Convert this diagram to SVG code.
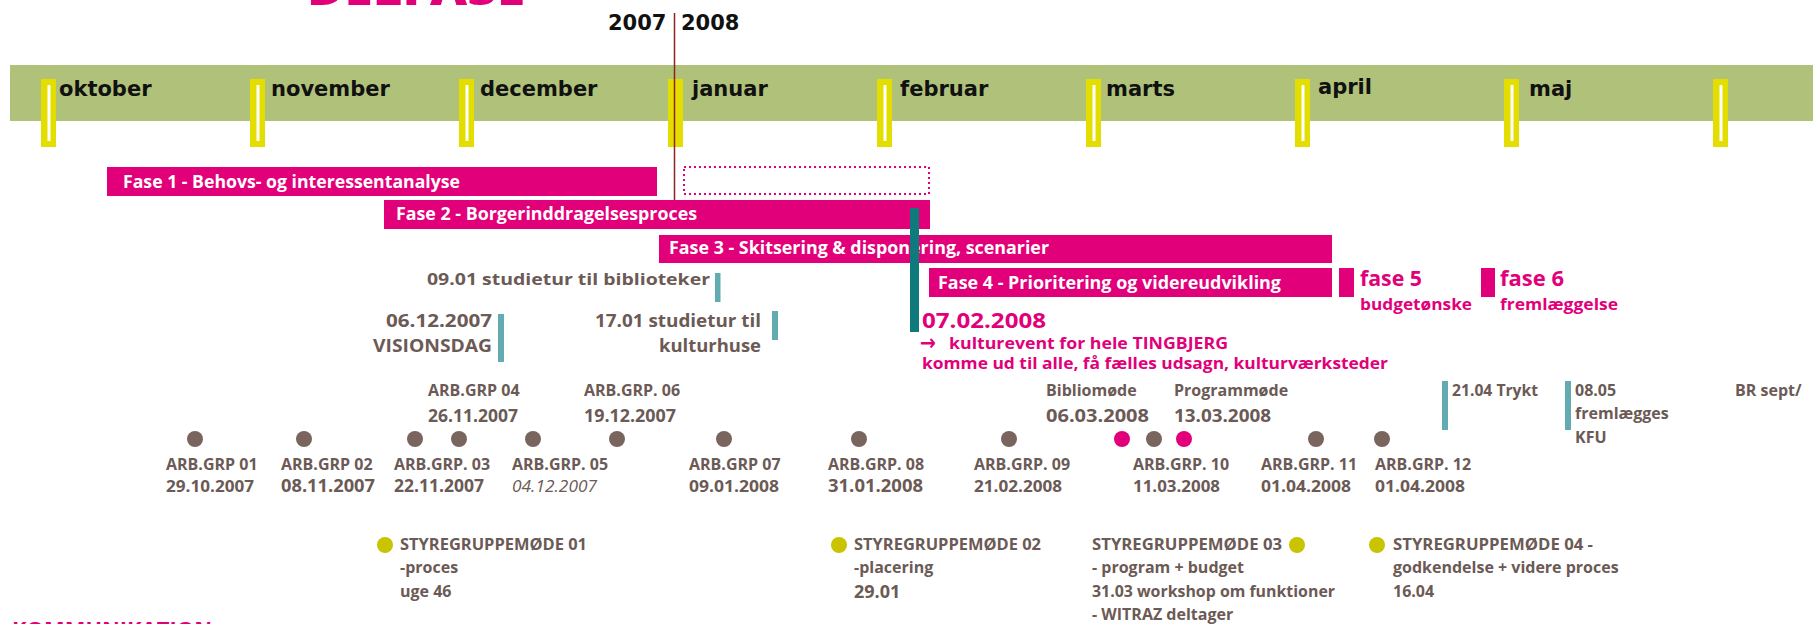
<svg xmlns="http://www.w3.org/2000/svg" width="1813" height="624" viewBox="0 0 1813 624">
<defs>
<style>
.m{font-family:"DejaVu Sans",sans-serif;font-weight:bold;font-size:21px;fill:#111}
.ft{font-family:"Open Sans","Liberation Sans",sans-serif;font-weight:700;font-size:17px;fill:#fff}
.t{font-family:"Open Sans","Liberation Sans",sans-serif;font-weight:700;font-size:16px;fill:#6B5A55}
.dl{font-size:18px}
.it{font-style:italic;font-weight:400}
.p{fill:#E2007A}
.bar{fill:#E2007A}
.mk{fill:#E3DE00}
.mw{fill:#fff}
.dot{fill:#7A655E}
.pdot{fill:#E2007A}
.ydot{fill:#C9C300}
.tl{fill:#62ABB0}
</style>
</defs>
<rect width="1813" height="624" fill="#fff"/>

<g id="title">
<text x="307" y="5" class="t p" style="font-size:46px;font-weight:800" textLength="218" lengthAdjust="spacingAndGlyphs">DELFASE</text>
</g>

<g id="band">
<rect x="10" y="65" width="1803" height="56" fill="#B0C279"/>
<rect class="mk" x="41" y="79" width="15" height="68"/><rect class="mw" x="47.5" y="85" width="3" height="56"/>
<rect class="mk" x="250" y="79" width="15" height="68"/><rect class="mw" x="256.5" y="85" width="3" height="56"/>
<rect class="mk" x="459" y="79" width="15" height="68"/><rect class="mw" x="465.5" y="85" width="3" height="56"/>
<rect class="mk" x="668" y="79" width="15" height="68"/>
<rect class="mk" x="877" y="79" width="15" height="68"/><rect class="mw" x="883.5" y="85" width="3" height="56"/>
<rect class="mk" x="1086" y="79" width="15" height="68"/><rect class="mw" x="1092.5" y="85" width="3" height="56"/>
<rect class="mk" x="1295" y="79" width="15" height="68"/><rect class="mw" x="1301.5" y="85" width="3" height="56"/>
<rect class="mk" x="1504" y="79" width="15" height="68"/><rect class="mw" x="1510.5" y="85" width="3" height="56"/>
<rect class="mk" x="1713" y="79" width="15" height="68"/><rect class="mw" x="1719.5" y="85" width="3" height="56"/>
<text class="m" x="59" y="96">oktober</text>
<text class="m" x="271" y="96">november</text>
<text class="m" x="480" y="96">december</text>
<text class="m" x="692" y="96">januar</text>
<text class="m" x="900" y="96">februar</text>
<text class="m" x="1106" y="96">marts</text>
<text class="m" x="1318" y="94">april</text>
<text class="m" x="1529" y="96">maj</text>
</g>

<g id="years">
<text class="m" x="608" y="30">2007</text>
<text class="m" x="681" y="30">2008</text>
</g>

<g id="fase1">
<rect class="bar" x="107" y="167" width="550" height="29"/>
<text class="ft" x="123" y="188" textLength="337" lengthAdjust="spacingAndGlyphs">Fase 1 - Behovs- og interessentanalyse</text>
</g>
<g id="fase1-ext">
<rect x="684" y="167" width="245" height="27" fill="none" stroke="#E2007A" stroke-width="2" stroke-dasharray="2 3"/>
</g>
<g id="fase2">
<rect class="bar" x="384" y="200" width="546" height="29"/>
<text class="ft" x="396" y="220" textLength="301" lengthAdjust="spacingAndGlyphs">Fase 2 - Borgerinddragelsesproces</text>
</g>
<g id="fase3">
<rect class="bar" x="659" y="235" width="673" height="28"/>
<text class="ft" x="669" y="254" textLength="380" lengthAdjust="spacingAndGlyphs">Fase 3 - Skitsering &amp; disponering, scenarier</text>
</g>
<g id="fase4">
<rect class="bar" x="929" y="268" width="403" height="29"/>
<text class="ft" x="938" y="289" textLength="343" lengthAdjust="spacingAndGlyphs">Fase 4 - Prioritering og videreudvikling</text>
</g>
<g id="fase5">
<rect class="bar" x="1339" y="268" width="15" height="29"/>
<text class="t p" x="1360" y="286" style="font-size:21px" textLength="62" lengthAdjust="spacingAndGlyphs">fase 5</text>
<text class="t p" x="1360" y="310" textLength="112" lengthAdjust="spacingAndGlyphs">budgetønske</text>
</g>
<g id="fase6">
<rect class="bar" x="1481" y="268" width="14" height="29"/>
<text class="t p" x="1500" y="286" style="font-size:21px" textLength="64" lengthAdjust="spacingAndGlyphs">fase 6</text>
<text class="t p" x="1500" y="310" textLength="118" lengthAdjust="spacingAndGlyphs">fremlæggelse</text>
</g>

<g id="connectors">
<line x1="674.5" y1="13" x2="674.5" y2="200" stroke="#8B2323" stroke-width="1.5"/>
</g>

<g id="event-0702">
<rect x="910" y="208" width="9" height="124" fill="#0E7A7B"/>
<text class="t p" x="922" y="328" style="font-size:22px" textLength="124" lengthAdjust="spacingAndGlyphs">07.02.2008</text>
<text x="920" y="350" style="font-family:'DejaVu Sans',sans-serif;font-size:22px;font-weight:bold;fill:#E2007A" textLength="16" lengthAdjust="spacingAndGlyphs">→</text>
<text class="t p" x="949" y="349" textLength="279" lengthAdjust="spacingAndGlyphs">kulturevent for hele TINGBJERG</text>
<text class="t p" x="922" y="369" textLength="466" lengthAdjust="spacingAndGlyphs">komme ud til alle, få fælles udsagn, kulturværksteder</text>
</g>

<g id="studietur-0901">
<rect class="tl" x="715" y="273" width="5.5" height="29"/>
<text class="t" x="710" y="285" text-anchor="end" textLength="283" lengthAdjust="spacingAndGlyphs">09.01 studietur til biblioteker</text>
</g>
<g id="visionsdag">
<rect class="tl" x="498" y="314" width="6" height="48"/>
<text class="t dl" x="492" y="327" text-anchor="end" textLength="106" lengthAdjust="spacingAndGlyphs">06.12.2007</text>
<text class="t dl" x="492" y="352" text-anchor="end" textLength="119" lengthAdjust="spacingAndGlyphs">VISIONSDAG</text>
</g>
<g id="studietur-1701">
<rect class="tl" x="772" y="311" width="6" height="29"/>
<text class="t dl" x="761" y="327" text-anchor="end" textLength="166" lengthAdjust="spacingAndGlyphs">17.01 studietur til</text>
<text class="t dl" x="761" y="352" text-anchor="end" textLength="102" lengthAdjust="spacingAndGlyphs">kulturhuse</text>
</g>

<g id="arbgrp04"><circle class="dot" cx="459" cy="439" r="8"/><text class="t" x="428" y="396">ARB.GRP 04</text><text class="t dl" x="428" y="422" textLength="90" lengthAdjust="spacingAndGlyphs">26.11.2007</text></g>
<g id="arbgrp06"><circle class="dot" cx="617" cy="439" r="8"/><text class="t" x="584" y="396">ARB.GRP. 06</text><text class="t dl" x="584" y="422" textLength="92" lengthAdjust="spacingAndGlyphs">19.12.2007</text></g>
<g id="bibliomode"><circle class="pdot" cx="1122" cy="439" r="8"/><text class="t" x="1046" y="396">Bibliomøde</text><text class="t dl" x="1046" y="422" textLength="103" lengthAdjust="spacingAndGlyphs">06.03.2008</text></g>
<g id="programmode"><circle class="pdot" cx="1184" cy="439" r="8"/><text class="t" x="1174" y="396">Programmøde</text><text class="t dl" x="1174" y="422" textLength="97" lengthAdjust="spacingAndGlyphs">13.03.2008</text></g>

<g id="arbgrp01"><circle class="dot" cx="195" cy="439" r="8"/><text class="t" x="166" y="470">ARB.GRP 01</text><text class="t" x="166" y="492" textLength="88" lengthAdjust="spacingAndGlyphs">29.10.2007</text></g>
<g id="arbgrp02"><circle class="dot" cx="304" cy="439" r="8"/><text class="t" x="281" y="470">ARB.GRP 02</text><text class="t dl" x="281" y="492" textLength="94" lengthAdjust="spacingAndGlyphs">08.11.2007</text></g>
<g id="arbgrp03"><circle class="dot" cx="415" cy="439" r="8"/><text class="t" x="394" y="470">ARB.GRP. 03</text><text class="t dl" x="394" y="492" textLength="90" lengthAdjust="spacingAndGlyphs">22.11.2007</text></g>
<g id="arbgrp05"><circle class="dot" cx="533" cy="439" r="8"/><text class="t" x="512" y="470">ARB.GRP. 05</text><text class="t it" x="512" y="492" textLength="85" lengthAdjust="spacingAndGlyphs">04.12.2007</text></g>
<g id="arbgrp07"><circle class="dot" cx="724" cy="439" r="8"/><text class="t" x="689" y="470">ARB.GRP 07</text><text class="t" x="689" y="492" textLength="90" lengthAdjust="spacingAndGlyphs">09.01.2008</text></g>
<g id="arbgrp08"><circle class="dot" cx="859" cy="439" r="8"/><text class="t" x="828" y="470">ARB.GRP. 08</text><text class="t dl" x="828" y="492" textLength="95" lengthAdjust="spacingAndGlyphs">31.01.2008</text></g>
<g id="arbgrp09"><circle class="dot" cx="1009" cy="439" r="8"/><text class="t" x="974" y="470">ARB.GRP. 09</text><text class="t" x="974" y="492" textLength="88" lengthAdjust="spacingAndGlyphs">21.02.2008</text></g>
<g id="arbgrp10"><circle class="dot" cx="1154" cy="439" r="8"/><text class="t" x="1133" y="470">ARB.GRP. 10</text><text class="t" x="1133" y="492" textLength="87" lengthAdjust="spacingAndGlyphs">11.03.2008</text></g>
<g id="arbgrp11"><circle class="dot" cx="1316" cy="439" r="8"/><text class="t" x="1261" y="470">ARB.GRP. 11</text><text class="t" x="1261" y="492" textLength="90" lengthAdjust="spacingAndGlyphs">01.04.2008</text></g>
<g id="arbgrp12"><circle class="dot" cx="1382" cy="439" r="8"/><text class="t" x="1375" y="470">ARB.GRP. 12</text><text class="t" x="1375" y="492" textLength="90" lengthAdjust="spacingAndGlyphs">01.04.2008</text></g>

<g id="trykt"><rect class="tl" x="1442" y="381" width="6" height="49"/><text class="t" x="1452" y="396" textLength="86" lengthAdjust="spacingAndGlyphs">21.04 Trykt</text></g>
<g id="kfu"><rect class="tl" x="1565" y="381" width="6" height="49"/><text class="t" x="1575" y="396">08.05</text><text class="t" x="1575" y="419">fremlægges</text><text class="t" x="1575" y="443">KFU</text></g>
<g id="br"><text class="t" x="1735" y="396">BR sept/</text></g>

<g id="styregruppe01"><circle class="ydot" cx="385" cy="545" r="8"/><text class="t" x="400" y="550" textLength="187" lengthAdjust="spacingAndGlyphs">STYREGRUPPEMØDE 01</text><text class="t" x="400" y="573">-proces</text><text class="t" x="400" y="597">uge 46</text></g>
<g id="styregruppe02"><circle class="ydot" cx="839" cy="545" r="8"/><text class="t" x="854" y="550" textLength="187" lengthAdjust="spacingAndGlyphs">STYREGRUPPEMØDE 02</text><text class="t" x="854" y="573">-placering</text><text class="t dl" x="854" y="598">29.01</text></g>
<g id="styregruppe03"><circle class="ydot" cx="1297" cy="545" r="8"/><text class="t" x="1092" y="550" textLength="190" lengthAdjust="spacingAndGlyphs">STYREGRUPPEMØDE 03</text><text class="t" x="1092" y="573">- program + budget</text><text class="t" x="1092" y="597" textLength="243" lengthAdjust="spacingAndGlyphs">31.03 workshop om funktioner</text><text class="t" x="1092" y="620">- WITRAZ deltager</text></g>
<g id="styregruppe04"><circle class="ydot" cx="1377" cy="545" r="8"/><text class="t" x="1393" y="550" textLength="200" lengthAdjust="spacingAndGlyphs">STYREGRUPPEMØDE 04 -</text><text class="t" x="1393" y="573">godkendelse + videre proces</text><text class="t" x="1393" y="597">16.04</text></g>

<g id="kommunikation">
<text class="t p" x="12" y="637" style="font-size:22px" textLength="200" lengthAdjust="spacingAndGlyphs">KOMMUNIKATION</text>
</g>
</svg>
